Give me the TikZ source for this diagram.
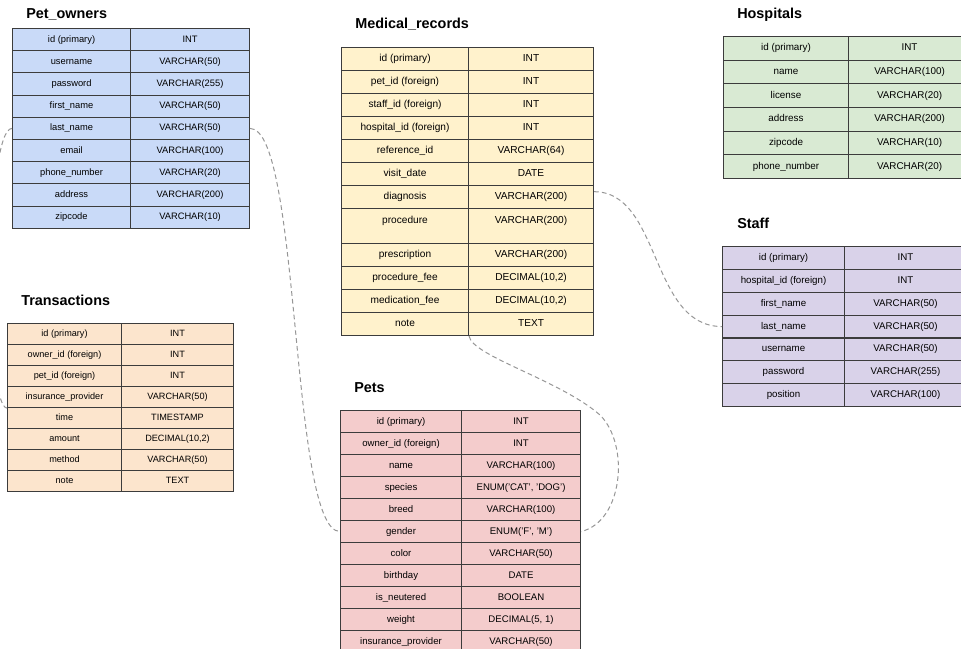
\documentclass[tikz,border=0pt]{standalone}
\usepackage{fontspec}
\setmainfont{Liberation Sans}
\begin{document}
\begin{tikzpicture}[x=0.75pt,y=-0.75pt,
  cell/.style 2 args={draw=\edge, line width=0.8pt, anchor=north west, inner sep=0pt,
    minimum width=#1*0.75pt, minimum height=#2*0.75pt,
    font=\fontsize{7}{8.4}\selectfont, text height=5.3pt, text depth=1.5pt},
  title/.style={anchor=west, inner sep=0pt, font=\fontsize{10.8}{13}\selectfont\bfseries,
    text height=7.8pt, text depth=0pt},
  link/.style={draw=\lnk, line width=0.75pt, dash pattern=on 3.5pt off 2.4pt}]
  \def\edge{rgb,255:red,60;green,60;blue,60}
  \def\lnk{rgb,255:red,150;green,150;blue,150}
  \def\own{rgb,255:red,201;green,218;blue,248}
  \def\med{rgb,255:red,255;green,242;blue,204}
  \def\hosp{rgb,255:red,217;green,234;blue,211}
  \def\stf{rgb,255:red,217;green,210;blue,233}
  \def\trn{rgb,255:red,252;green,229;blue,205}
  \def\pet{rgb,255:red,244;green,204;blue,204}
  \def\tbl#1#2#3#4#5#6#7#8#9{
    \foreach \a/\b [count=\i] in {#9} {
      \node[cell={#4}{#6}, fill=#7, font=\fontsize{#8}{9}\selectfont] (#1-\i-l) at (#2,#3+\i*#6-#6) {\a};
      \node[cell={#5}{#6}, fill=#7, font=\fontsize{#8}{9}\selectfont] (#1-\i-r) at (#2+#4,#3+\i*#6-#6) {\b};
    }
  }
  \useasboundingbox (0,0) rectangle (961,649);
  \clip (0,0) rectangle (961,649);

  \node[title] (owners-t) at (26,13.5) {Pet\_owners};
  \tbl{owners}{12}{28}{118}{119}{22.2}{\own}{7}{id (primary)/INT, username/VARCHAR(50),
    password/VARCHAR(255), first\_name/VARCHAR(50), last\_name/VARCHAR(50),
    email/VARCHAR(100), phone\_number/VARCHAR(20), address/VARCHAR(200),
    zipcode/VARCHAR(10)}

  \node[title] (med-t) at (355,23) {Medical\_records};
  \tbl{med}{341}{47}{127}{125}{23}{\med}{7.6}{id (primary)/INT, pet\_id (foreign)/INT,
    staff\_id (foreign)/INT, hospital\_id (foreign)/INT, reference\_id/VARCHAR(64),
    visit\_date/DATE, diagnosis/VARCHAR(200)}
  \node[cell={127}{35}, fill=\med, font=\fontsize{7.6}{9}\selectfont, text depth=9.75pt]
    (med-8-l) at (341,208) {procedure};
  \node[cell={125}{35}, fill=\med, font=\fontsize{7.6}{9}\selectfont, text depth=9.75pt]
    (med-8-r) at (468,208) {VARCHAR(200)};
  \tbl{medb}{341}{243}{127}{125}{23}{\med}{7.6}{prescription/VARCHAR(200),
    procedure\_fee/{DECIMAL(10,2)}, medication\_fee/{DECIMAL(10,2)}, note/TEXT}

  \node[title] (hosp-t) at (737,13.5) {Hospitals};
  \tbl{hosp}{723}{36}{125}{122}{23.67}{\hosp}{7.4}{id (primary)/INT, name/VARCHAR(100),
    license/VARCHAR(20), address/VARCHAR(200), zipcode/VARCHAR(10),
    phone\_number/VARCHAR(20)}

  \node[title] (staff-t) at (737,223) {Staff};
  \tbl{staff}{722}{246}{122}{122}{22.86}{\stf}{7.3}{id (primary)/INT, hospital\_id (foreign)/INT,
    first\_name/VARCHAR(50), last\_name/VARCHAR(50), username/VARCHAR(50),
    password/VARCHAR(255), position/VARCHAR(100)}

  \node[title] (trans-t) at (21,300.5) {Transactions};
  \tbl{trans}{7}{323}{114}{112}{21}{\trn}{6.85}{id (primary)/INT, owner\_id (foreign)/INT,
    pet\_id (foreign)/INT, insurance\_provider/VARCHAR(50), time/TIMESTAMP,
    amount/{DECIMAL(10,2)}, method/VARCHAR(50), note/TEXT}

  \node[title] (pets-t) at (354,387) {Pets};
  \tbl{pets}{340}{410}{121}{119}{22}{\pet}{7.2}{id (primary)/INT, owner\_id (foreign)/INT,
    name/VARCHAR(100), species/{ENUM('CAT', 'DOG')}, breed/VARCHAR(100),
    gender/{ENUM('F', 'M')}, color/VARCHAR(50), birthday/DATE, is\_neutered/BOOLEAN,
    weight/{DECIMAL(5, 1)}, insurance\_provider/VARCHAR(50)}

  \coordinate (bend) at (600,415);
  \draw[link] (owners-5-r.east) .. controls +(51,0) and +(-50,0) .. (pets-6-l.west);
  \draw[link] ([yshift=4pt]med-7-r.east) .. controls +(67,0) and +(-72,0) .. (staff-4-l.west);
  \draw[link] (medb-4-l.south east) .. controls +(3,20) and +(-40,-35) .. (bend)
    .. controls +(30,30) and +(42,-10) .. (pets-6-r.east);
  \draw[link] (owners-5-l.west) .. controls +(-27,0) and +(-22,0) .. (trans-4-l.south west);
\end{tikzpicture}
\end{document}
